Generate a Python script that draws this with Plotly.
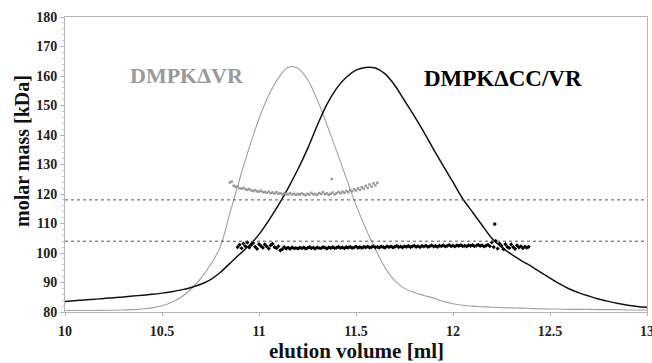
import plotly.graph_objects as go

# ---- data ----
curve_x = [10.00, 10.05, 10.10, 10.15, 10.20, 10.25, 10.30, 10.35, 10.40, 10.45,
           10.50, 10.55, 10.60, 10.65, 10.70, 10.75, 10.80, 10.85, 10.90, 10.95,
           11.00, 11.05, 11.10, 11.15, 11.20, 11.25, 11.30, 11.35, 11.40, 11.45,
           11.50, 11.55, 11.60, 11.65, 11.70, 11.75, 11.80, 11.85, 11.90, 11.95,
           12.00, 12.05, 12.10, 12.15, 12.20, 12.25, 12.30, 12.35, 12.40, 12.45,
           12.50, 12.55, 12.60, 12.65, 12.70, 12.75, 12.80, 12.85, 12.90, 12.95,
           13.00]

dvr_trace = [80.5, 80.5, 80.5, 80.5, 80.6, 80.6, 80.7, 80.8, 81.0, 81.4,
             82.1, 83.3, 85.1, 87.8, 91.4, 96.0, 102.0, 113.5, 125.0, 135.8,
             145.5, 153.5, 159.3, 163.0, 162.6, 158.8, 152.0, 143.5, 134.6, 125.4,
             116.3, 108.3, 101.3, 95.0, 90.6, 88.0, 86.6, 85.6, 84.7, 83.6,
             82.8, 82.3, 82.0, 81.8, 81.6, 81.5, 81.4, 81.3, 81.2, 81.1,
             81.0, 81.0, 80.9, 80.9, 80.9, 80.8, 80.8, 80.8, 80.7, 80.7,
             80.7]

dccvr_trace = [83.6, 83.8, 84.1, 84.3, 84.6, 84.8, 85.1, 85.4, 85.7, 86.0,
               86.4, 86.9, 87.5, 88.3, 89.4, 91.0, 93.4, 96.5, 99.6, 102.6,
               106.3, 111.0, 116.2, 122.0, 128.3, 135.3, 143.2, 150.4, 155.8, 159.6,
               162.0, 162.9, 162.7, 160.7, 156.8, 151.7, 146.5, 141.0, 135.1, 129.5,
               124.0, 118.4, 113.9, 109.4, 105.0, 102.0, 99.6, 97.5, 95.6, 93.5,
               91.5, 89.5, 87.8, 86.5, 85.4, 84.4, 83.6, 82.9, 82.3, 81.9,
               81.6]

dvr_mass_x = [10.85, 10.86, 10.87, 10.88, 10.89, 10.90, 10.91, 10.92, 10.93, 10.94,
              10.95, 10.96, 10.97, 10.98, 10.99, 11.00, 11.01, 11.02, 11.03, 11.04,
              11.05, 11.06, 11.07, 11.08, 11.09, 11.10, 11.11, 11.12, 11.13, 11.14,
              11.15, 11.16, 11.17, 11.18, 11.19, 11.20, 11.21, 11.22, 11.23, 11.24,
              11.25, 11.26, 11.27, 11.28, 11.29, 11.30, 11.31, 11.32, 11.33, 11.34,
              11.35, 11.36, 11.37, 11.375, 11.38, 11.39, 11.40, 11.41, 11.42, 11.43,
              11.44, 11.45, 11.46, 11.47, 11.48, 11.49, 11.50, 11.51, 11.52, 11.53,
              11.54, 11.55, 11.56, 11.57, 11.58, 11.59, 11.60, 11.61]
dvr_mass = [123.9, 124.2, 122.8, 122.4, 122.6, 122.0, 121.8, 122.1, 121.6, 121.4,
            121.7, 121.2, 121.0, 121.3, 120.9, 120.8, 121.1, 120.6, 120.7, 120.4,
            120.8, 120.3, 120.5, 120.2, 120.6, 120.1, 120.3, 119.9, 120.2, 120.0,
            119.8, 120.3, 119.9, 120.1, 119.7, 120.0, 119.8, 120.2, 119.9, 119.6,
            120.1, 119.8, 120.4, 119.9, 120.0, 119.7, 120.3, 120.0, 120.6, 119.9,
            120.2, 119.8, 120.1, 125.1, 120.5, 119.9, 120.3, 120.7, 120.2, 120.8,
            120.4, 121.0, 120.6, 121.3, 120.9, 121.6, 121.2, 121.9, 121.4, 122.3,
            121.8, 122.8, 122.1, 123.2, 122.5, 123.6, 122.9, 123.8]

dccvr_mass_x = [10.89, 10.90, 10.91, 10.92, 10.93, 10.94, 10.95, 10.96, 10.97, 10.98,
                10.99, 11.00, 11.01, 11.02, 11.03, 11.04, 11.05, 11.06, 11.07, 11.08,
                11.09, 11.10, 11.11, 11.12, 11.13, 11.14, 11.15, 11.16, 11.17, 11.18,
                11.19, 11.20, 11.21, 11.22, 11.23, 11.24, 11.25, 11.26, 11.27, 11.28,
                11.29, 11.30, 11.31, 11.32, 11.33, 11.34, 11.35, 11.36, 11.37, 11.38,
                11.39, 11.40, 11.41, 11.42, 11.43, 11.44, 11.45, 11.46, 11.47, 11.48,
                11.49, 11.50, 11.51, 11.52, 11.53, 11.54, 11.55, 11.56, 11.57, 11.58,
                11.59, 11.60, 11.61, 11.62, 11.63, 11.64, 11.65, 11.66, 11.67, 11.68,
                11.69, 11.70, 11.71, 11.72, 11.73, 11.74, 11.75, 11.76, 11.77, 11.78,
                11.79, 11.80, 11.81, 11.82, 11.83, 11.84, 11.85, 11.86, 11.87, 11.88,
                11.89, 11.90, 11.91, 11.92, 11.93, 11.94, 11.95, 11.96, 11.97, 11.98,
                11.99, 12.00, 12.01, 12.02, 12.03, 12.04, 12.05, 12.06, 12.07, 12.08,
                12.09, 12.10, 12.11, 12.12, 12.13, 12.14, 12.15, 12.16, 12.17, 12.18,
                12.19, 12.20, 12.21, 12.215, 12.22, 12.23, 12.24, 12.25, 12.26, 12.27,
                12.28, 12.29, 12.30, 12.31, 12.32, 12.33, 12.34, 12.35, 12.36, 12.37,
                12.38, 12.39]
dccvr_mass = [102.0, 102.8, 101.6, 103.2, 102.3, 103.6, 101.9, 102.7, 103.4, 102.1,
              101.4, 103.0, 102.4, 101.8, 102.9, 102.2, 101.5, 102.6, 103.1, 102.0,
              101.6, 102.3, 100.9, 101.3, 102.0, 101.5, 101.8, 101.4, 101.9, 101.6,
              101.7, 101.5, 101.8, 101.6, 101.9, 101.5, 101.7, 102.0, 101.6, 101.8,
              101.5, 101.9, 101.7, 101.6, 102.0, 101.8, 101.5, 101.9, 101.7, 102.0,
              101.6, 101.8, 102.1, 101.7, 101.9, 101.6, 102.0, 101.8, 102.1, 101.7,
              101.9, 102.2, 101.8, 102.0, 101.7, 102.1, 101.9, 102.2, 101.8, 102.0,
              102.3, 101.9, 102.1, 101.8, 102.2, 102.0, 101.8, 102.3, 102.0, 102.2,
              101.9, 102.1, 102.4, 102.0, 102.2, 101.9, 102.3, 102.1, 102.4, 102.0,
              102.2, 102.5, 102.1, 102.3, 102.0, 102.4, 102.2, 102.5, 102.1, 102.3,
              102.6, 102.2, 102.4, 102.1, 102.5, 102.3, 102.6, 102.2, 102.4, 102.7,
              102.3, 102.5, 102.2, 102.6, 102.4, 102.7, 102.3, 102.5, 102.2, 102.6,
              102.4, 102.7, 102.3, 102.5, 102.8, 102.4, 102.6, 102.2, 102.5, 102.8,
              102.3, 103.6, 102.0, 109.8, 104.1, 101.5, 103.2, 102.4, 101.3, 103.0,
              102.1, 101.7, 102.9, 102.0, 101.4, 102.6, 101.9, 102.3, 101.6, 102.2,
              101.8, 102.1]

reference_masses = [118, 104]
labels = ["DMPKΔVR", "DMPKΔCC/VR"]
x_title = "elution volume [ml]"
y_title = "molar mass [kDa]"

SERIF = "Liberation Serif"
GREY = "#9a9a9a"

fig = go.Figure()
fig.add_trace(go.Scatter(x=curve_x, y=dvr_trace, mode="lines", line_shape="spline",
                         line=dict(color="#a0a0a0", width=1.1), showlegend=False))
fig.add_trace(go.Scatter(x=curve_x, y=dccvr_trace, mode="lines", line_shape="spline",
                         line=dict(color="#111111", width=1.5), showlegend=False))
fig.add_trace(go.Scatter(x=dvr_mass_x, y=dvr_mass, mode="markers",
                         marker=dict(symbol="square", size=2.5, color=GREY), showlegend=False))
fig.add_trace(go.Scatter(x=dccvr_mass_x, y=dccvr_mass, mode="markers",
                         marker=dict(symbol="diamond", size=3.2, color="#000000"), showlegend=False))

for m in reference_masses:
    fig.add_shape(type="line", xref="paper", x0=0, x1=1, yref="y", y0=m, y1=m,
                  line=dict(color="#555555", width=1, dash="dot"))

fig.add_annotation(x=10.935, y=160.3, text=labels[0], showarrow=False, xanchor="right",
                   yanchor="middle", font=dict(family=SERIF, size=22, color=GREY, weight="bold"))
fig.add_annotation(x=11.84, y=159.2, text=labels[1], showarrow=False, xanchor="left",
                   yanchor="middle", font=dict(family=SERIF, size=23, color="#000000", weight="bold"))

# axis titles placed as annotations
fig.add_annotation(xref="paper", yref="paper", x=0.5, y=0, yshift=-39, text=x_title,
                   showarrow=False, xanchor="center", yanchor="middle",
                   font=dict(family=SERIF, size=21, color="#111111", weight="bold"))
fig.add_annotation(xref="paper", yref="paper", x=0, xshift=-43, y=0.546, text=y_title,
                   textangle=-90, showarrow=False, xanchor="center", yanchor="middle",
                   font=dict(family=SERIF, size=20, color="#111111", weight="bold"))

fig.update_layout(
    width=652, height=363,
    margin=dict(l=65, r=5, t=17, b=51),
    paper_bgcolor="white", plot_bgcolor="white",
    font=dict(family=SERIF, color="#222222"),
)
fig.update_xaxes(range=[10, 13], dtick=0.5, showgrid=False, zeroline=False,
                 showline=True, linecolor="#b5b5b5", linewidth=1, mirror=True,
                 ticks="outside", ticklen=3, tickcolor="#b5b5b5",
                 ticklabeloverflow="allow", automargin=False, ticklabelstandoff=3,
                 tickfont=dict(family=SERIF, size=14, color="#222222", weight="bold"))
fig.update_yaxes(range=[80, 180], dtick=10, showgrid=False, zeroline=False,
                 showline=True, linecolor="#b5b5b5", linewidth=1, mirror=True,
                 ticks="outside", ticklen=4, tickcolor="#b5b5b5", automargin=False,
                 minor=dict(ticks="outside", dtick=2, ticklen=2, tickcolor="#c5c5c5"),
                 tickfont=dict(family=SERIF, size=14, color="#222222", weight="bold"))

fig.write_html(
    "out.html",
    config={"displayModeBar": False},
    post_script="document.body.style.margin='0';document.body.style.padding='0';"
                "document.body.style.overflow='hidden';",
)
